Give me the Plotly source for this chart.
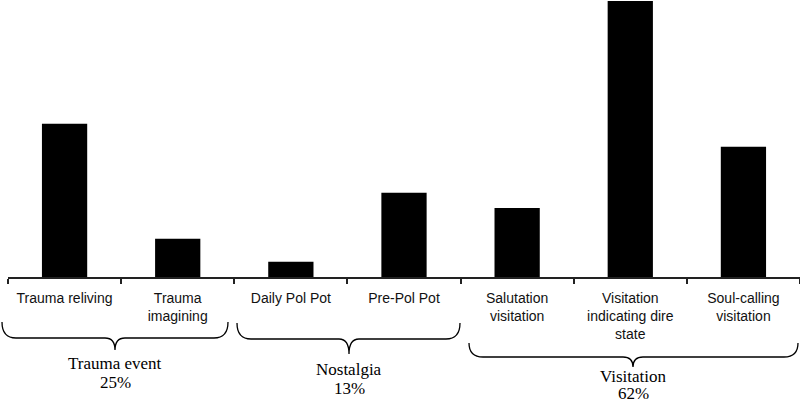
import plotly.graph_objects as go

categories = ["Trauma reliving", "Trauma<br>imagining", "Daily Pol Pot", "Pre-Pol Pot",
              "Salutation<br>visitation", "Visitation<br>indicating dire<br>state",
              "Soul-calling<br>visitation"]
values = [20, 5, 2, 11, 9, 36, 17]
group_names = ["Trauma event", "Nostalgia", "Visitation"]
group_pcts = ["25%", "13%", "62%"]

W, H = 800, 401
ML, MR, MT, MB = 8, 0, 1, 124
PW, PH = W - ML - MR, H - MT - MB
AXIS_Y = H - MB

def px_to_paper_x(px):
    return (px - ML) / PW

def py_to_paper(py):
    return (AXIS_Y - py) / PH

fig = go.Figure(go.Bar(x=list(range(len(values))), y=values, marker_color="black",
                       width=0.4, marker_line_width=0))

# brace geometry (pixels): x0, x1, xmid, ytop, yline, ytip, name centre y, pct centre y
braces = [
    (2, 228, 115, 322, 338, 350, 363, 382),
    (237, 460, 349, 323, 339, 354, 369, 388),
    (469, 798, 633, 343, 357, 367, 376, 393),
]

shapes = []
annotations = []
for (x0, x1, xm, yt, yl, ytip, yn, yp), name, pct in zip(braces, group_names, group_pcts):
    r = 14
    def P(px, py):
        return f"{px_to_paper_x(px):.5f},{py_to_paper(py):.5f}"
    path = (f"M {P(x0, yt)} Q {P(x0, yl)} {P(x0 + r, yl)} "
            f"L {P(xm - 10, yl)} Q {P(xm, yl)} {P(xm, ytip)} "
            f"Q {P(xm, yl)} {P(xm + 10, yl)} "
            f"L {P(x1 - r, yl)} Q {P(x1, yl)} {P(x1, yt)}")
    shapes.append(dict(type="path", xref="paper", yref="paper", path=path,
                       line=dict(color="black", width=1.3)))
    for txt, yy in ((name, yn), (pct, yp)):
        annotations.append(dict(xref="paper", yref="paper", x=px_to_paper_x(xm),
                                y=py_to_paper(yy), yanchor="middle", xanchor="center",
                                text=txt, showarrow=False, borderpad=0,
                                font=dict(family="Liberation Serif", size=17, color="black")))

fig.update_layout(
    width=W, height=H,
    margin=dict(l=ML, r=MR, t=MT, b=MB, pad=0),
    plot_bgcolor="white", paper_bgcolor="white",
    showlegend=False,
    shapes=shapes, annotations=annotations,
    xaxis=dict(tickmode="array", tickvals=list(range(len(categories))), ticktext=categories,
               range=[-0.5, len(categories) - 0.5],
               showline=True, linecolor="#222", linewidth=1.5,
               ticks="", showgrid=False, zeroline=False, ticklabelstandoff=7,
               tickfont=dict(family="Liberation Sans", size=14, color="#111")),
    yaxis=dict(range=[0, 36], visible=False, showgrid=False, zeroline=False),
)

fig.update_xaxes(minor=dict(tickmode="array", tickvals=[i - 0.5 for i in range(len(categories) + 1)],
                            ticks="outside", ticklen=5, tickcolor="#222", tickwidth=1.5))

fig.write_html("out.html", config={"displayModeBar": False},
               post_script="document.body.style.margin='0';document.body.style.overflow='hidden';")
